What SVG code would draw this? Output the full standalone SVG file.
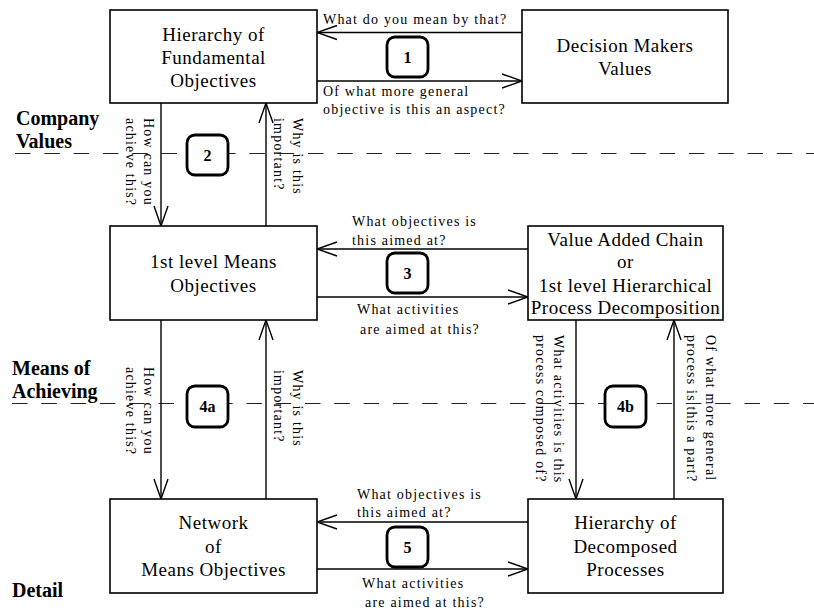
<svg xmlns="http://www.w3.org/2000/svg" width="814" height="613" viewBox="0 0 814 613">
<style>
.box{fill:#fff;stroke:#000;stroke-width:1.6}
.bt{font-family:"Liberation Serif","Times New Roman",serif;font-size:19px;letter-spacing:0.5px;text-anchor:middle;fill:#000}
.lt{font-family:"Liberation Serif","Times New Roman",serif;font-size:14px;letter-spacing:1.2px;fill:#000}
.sec{font-family:"Liberation Serif","Times New Roman",serif;font-size:20px;font-weight:bold;fill:#000}
.badge{fill:#fff;stroke:#000;stroke-width:2.8}
.bn{font-family:"Liberation Serif","Times New Roman",serif;font-size:16px;font-weight:bold;text-anchor:middle;fill:#000}
.dash{stroke:#222;stroke-width:1;stroke-dasharray:15.5 13.8;fill:none}
.con{stroke:#000;stroke-width:1.4;fill:none;marker-end:url(#ah)}
</style>
<defs>
<marker id="ah" markerUnits="userSpaceOnUse" markerWidth="24" markerHeight="18" viewBox="-22 -9 24 18" refX="0" refY="0" orient="auto">
<path d="M-20,-7 L0,0 L-20,7" fill="none" stroke="#000" stroke-width="1.4"/>
</marker>
</defs>
<rect width="814" height="613" fill="#fff"/>

<g id="levels">
<line class="dash" x1="15" y1="153.5" x2="814" y2="153.5"/>
<line class="dash" x1="12" y1="403.5" x2="814" y2="403.5"/>
<text class="sec" x="16" y="125">Company</text>
<text class="sec" x="16" y="148">Values</text>
<text class="sec" x="12" y="375">Means of</text>
<text class="sec" x="12" y="398">Achieving</text>
<text class="sec" x="12" y="597">Detail</text>
</g>

<g id="connectors">
<line class="con" x1="522" y1="32.5" x2="317" y2="32.5"/>
<line class="con" x1="317" y1="81" x2="522" y2="81"/>
<line class="con" x1="161" y1="103" x2="161" y2="226"/>
<line class="con" x1="266" y1="226" x2="266" y2="103"/>
<line class="con" x1="528" y1="249" x2="317" y2="249"/>
<line class="con" x1="317" y1="297" x2="528" y2="297"/>
<line class="con" x1="161" y1="320" x2="161" y2="499"/>
<line class="con" x1="266" y1="499" x2="266" y2="320"/>
<line class="con" x1="576" y1="320" x2="576" y2="499"/>
<line class="con" x1="674" y1="499" x2="674" y2="320"/>
<line class="con" x1="528" y1="522" x2="317" y2="522"/>
<line class="con" x1="317" y1="569" x2="528" y2="569"/>

<text class="lt" x="323" y="23.5">What do you mean by that?</text>
<text class="lt" x="323" y="96">Of what more general</text>
<text class="lt" x="323" y="114">objective is this an aspect?</text>

<text class="lt" x="352" y="226">What objectives is</text>
<text class="lt" x="352" y="245">this aimed at?</text>
<text class="lt" x="357" y="314">What activities</text>
<text class="lt" x="360" y="334">are aimed at this?</text>

<text class="lt" x="357" y="499">What objectives is</text>
<text class="lt" x="357" y="517">this aimed at?</text>
<text class="lt" x="362" y="588">What activities</text>
<text class="lt" x="365" y="607">are aimed at this?</text>

<text class="lt" transform="translate(144,118) rotate(90)">How can you<tspan x="0" y="18.5">achieve this?</tspan></text>
<text class="lt" transform="translate(292.5,118) rotate(90)">Why is this<tspan x="0" y="18.5">important?</tspan></text>
<text class="lt" transform="translate(144,367) rotate(90)">How can you<tspan x="0" y="18.5">achieve this?</tspan></text>
<text class="lt" transform="translate(292.5,370) rotate(90)">Why is this<tspan x="0" y="18.5">important?</tspan></text>
<text class="lt" transform="translate(554,335) rotate(90)">What activities is this<tspan x="0" y="18.5">process composed of?</tspan></text>
<text class="lt" transform="translate(705.5,335) rotate(90)">Of what more general<tspan x="0" y="18.5">process is this a part?</tspan></text>
</g>

<g id="badges">
<rect class="badge" x="387" y="37" width="41" height="40" rx="8"/><text class="bn" x="407.5" y="62.5">1</text>
<rect class="badge" x="187" y="135" width="41" height="40" rx="8"/><text class="bn" x="207.5" y="160.5">2</text>
<rect class="badge" x="387" y="253" width="41" height="40" rx="8"/><text class="bn" x="407.5" y="278.5">3</text>
<rect class="badge" x="187" y="386" width="41" height="41" rx="8"/><text class="bn" x="207.5" y="412">4a</text>
<rect class="badge" x="605" y="386" width="41" height="41" rx="8"/><text class="bn" x="625.5" y="412">4b</text>
<rect class="badge" x="387" y="527" width="41" height="40" rx="8"/><text class="bn" x="407.5" y="552.5">5</text>
</g>

<g id="fundamental">
<rect class="box" x="110" y="10" width="207" height="93"/>
<text class="bt" x="213.5" y="41">Hierarchy of</text>
<text class="bt" x="213.5" y="64">Fundamental</text>
<text class="bt" x="213.5" y="87">Objectives</text>
</g>
<g id="dmvalues">
<rect class="box" x="522" y="10" width="206" height="93"/>
<text class="bt" x="625" y="52">Decision Makers</text>
<text class="bt" x="625" y="75">Values</text>
</g>
<g id="means1">
<rect class="box" x="110" y="226" width="207" height="94"/>
<text class="bt" x="213.5" y="268">1st level Means</text>
<text class="bt" x="213.5" y="291.5">Objectives</text>
</g>
<g id="valuechain">
<rect class="box" x="528" y="226" width="195" height="94"/>
<text class="bt" x="625.5" y="245.5">Value Added Chain</text>
<text class="bt" x="625.5" y="268">or</text>
<text class="bt" x="625.5" y="291.5">1st level Hierarchical</text>
<text class="bt" x="625.5" y="313.5">Process Decomposition</text>
</g>
<g id="network">
<rect class="box" x="110" y="499" width="207" height="94"/>
<text class="bt" x="213.5" y="529">Network</text>
<text class="bt" x="213.5" y="552.5">of</text>
<text class="bt" x="213.5" y="576">Means Objectives</text>
</g>
<g id="decomposed">
<rect class="box" x="528" y="499" width="195" height="94"/>
<text class="bt" x="625.5" y="529">Hierarchy of</text>
<text class="bt" x="625.5" y="552.5">Decomposed</text>
<text class="bt" x="625.5" y="576">Processes</text>
</g>
</svg>
